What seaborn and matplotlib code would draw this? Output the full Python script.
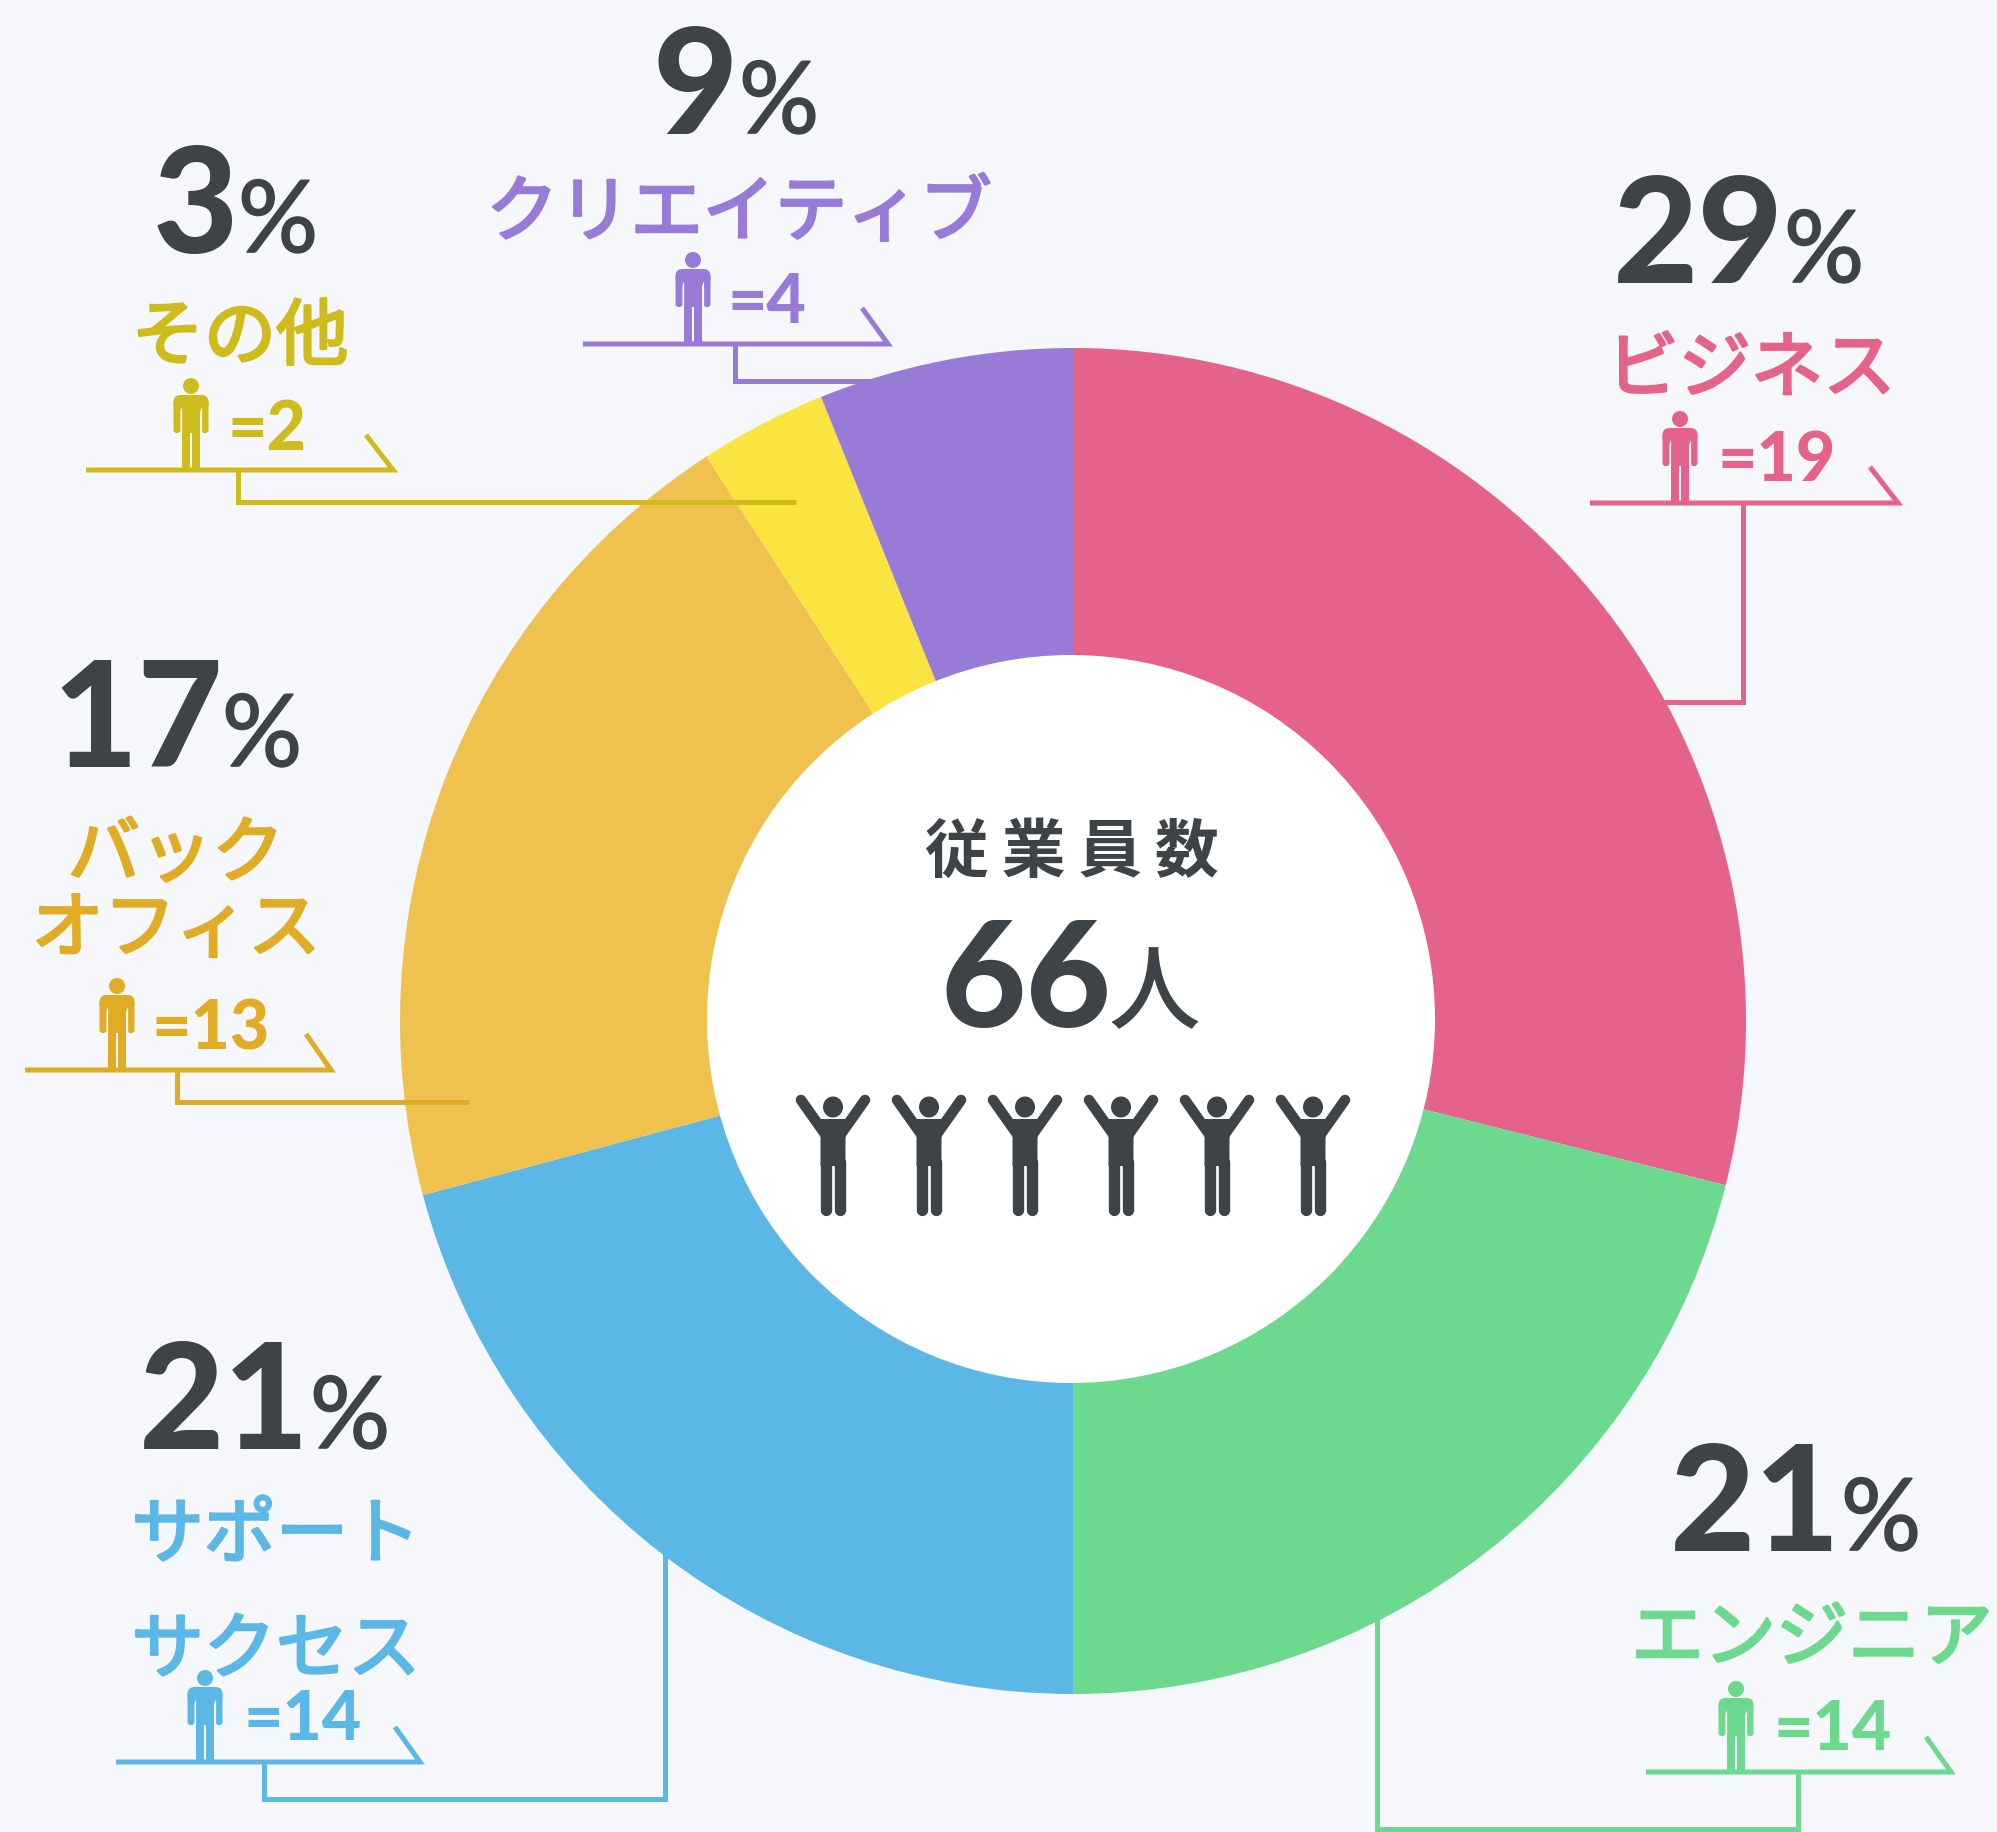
import matplotlib
matplotlib.use("Agg")
import matplotlib.pyplot as plt
import matplotlib.patheffects as pe
from matplotlib.patches import Circle, Ellipse, Rectangle, FancyBboxPatch, Polygon
import seaborn as sns

# ── data ─────────────────────────────────────────────────────────────────────
names = ["ビジネス", "エンジニア", "サポート\nサクセス", "バック\nオフィス", "その他", "クリエイティブ"]
counts = [19, 14, 14, 13, 2, 4]
# slice sizes as drawn in the picture (not quite the same as the counts)
slice_sizes = [19.09, 13.91, 13.75, 13.2, 2.02, 4.03]
pct_labels = ["29", "21", "21", "17", "3", "9"]
slice_hex = ["#E5628A", "#6CD98F", "#5BB8E6", "#EFC24F", "#FBE340", "#977BD6"]
text_hex = ["#E5628A", "#6CD98F", "#5BB8E6", "#E0AB25", "#CFBB1B", "#977BD6"]
center_title = "従\u2009業\u2009員\u2009数"
center_total = "66"
center_unit = "人"
center_icons = 6

DARK = "#3E4347"
BG = "#F6F7FB"
W, H = 1997, 1833

sns.set_theme(style="white", rc={"figure.facecolor": BG, "axes.facecolor": BG})
NUM_FONT = ["Lato", "DejaVu Sans"]
JP_FONT = ["Noto Sans CJK JP", "DejaVu Sans"]
plt.rcParams["font.family"] = JP_FONT

fig = plt.figure(figsize=(W / 100, H / 100), dpi=100)
ax = fig.add_axes([0, 0, 1, 1])

# ── layout, all in pixels of the picture (y runs down) ───────────────────────
layout = [
    dict(px=1613, py=283, sx=1784, lx=1751, ly=[392], cx=1680, top=412, nx=1718, ny=481,
         x0=1590, x1=1898, y=504, tx=1870, ty=468,
         lead=[(1743, 504), (1743, 703), (1640, 703)], over=False),
    dict(px=1670, py=1551, sx=1841, lx=1812, ly=[1661], cx=1736, top=1682, nx=1774, ny=1750,
         x0=1646, x1=1951, y=1773, tx=1926, ty=1738,
         lead=[(1798, 1773), (1798, 1830), (1377, 1830), (1377, 1600)], over=False),
    dict(px=139, py=1449, sx=310, lx=276, ly=[1558, 1673], cx=205, top=1671, nx=243, ny=1740,
         x0=116, x1=420, y=1763, tx=395, ty=1728,
         lead=[(264, 1763), (264, 1800), (665, 1800), (665, 1530)], over=False),
    dict(px=52, py=767, sx=222, lx=176, ly=[877, 952], cx=117, top=979, nx=151, ny=1049,
         x0=25, x1=331, y=1071, tx=306, ty=1035,
         lead=[(177, 1071), (177, 1103), (469, 1103)], over=True),
    dict(px=153, py=253, sx=238, lx=240, ly=[360], cx=191, top=379, nx=227, ny=450,
         x0=86, x1=393, y=471, tx=366, ty=436,
         lead=[(238, 471), (238, 503), (796, 503)], over=True),
    dict(px=653, py=134, sx=739, lx=739, ly=[236], cx=693, top=253, nx=728, ny=323,
         x0=583, x1=888, y=345, tx=862, ty=309,
         lead=[(735, 345), (735, 382), (900, 382)], over=False),
]


def person(cx, top, bottom, color, zorder=5):
    # standing figure under each label
    ax.add_patch(Circle((cx, top + 8), 8, fc=color, ec="none", zorder=zorder))
    ax.add_patch(FancyBboxPatch((cx - 17.5, top + 17), 35, 16, boxstyle="round,pad=0,rounding_size=7",
                                fc=color, ec="none", zorder=zorder))
    for side in (-1, 1):
        ax.add_patch(FancyBboxPatch((cx + side * 14 - 3.5, top + 22), 7, 33, boxstyle="round,pad=0,rounding_size=3",
                                    fc=color, ec="none", zorder=zorder))
        ax.add_patch(Rectangle((cx + side * 5 - 4.2, top + 50), 8.4, bottom - top - 50, fc=color, ec="none", zorder=zorder))
    ax.add_patch(Rectangle((cx - 9.2, top + 17), 18.4, 38, fc=color, ec="none", zorder=zorder))
    # gap between arm and body
    for side in (-1, 1):
        ax.plot([cx + side * 9.8] * 2, [top + 30, top + 55], color=BG, lw=0.9, zorder=zorder, solid_capstyle="butt")


def cheer(cx, top, bottom, color, zorder=5):
    # arms-up figure in the middle of the ring
    ax.add_patch(Ellipse((cx, top + 13), 20, 21, fc=color, ec="none", zorder=zorder))
    for side in (-1, 1):
        ax.plot([cx + side * 32, cx + side * 8], [top + 6, top + 40], color=color, lw=7.6, zorder=zorder, solid_capstyle="round")
        ax.plot([cx + side * 7] * 2, [top + 68, bottom - 6], color=color, lw=8.2, zorder=zorder, solid_capstyle="round")
    ax.add_patch(Polygon([(cx - 19, top + 25), (cx + 19, top + 25), (cx + 12.5, top + 42), (cx + 12.5, top + 72),
                          (cx - 12.5, top + 72), (cx - 12.5, top + 42)], fc=color, ec="none", zorder=zorder))


def thicker(color, lw):
    # the installed CJK font has no medium weight, so fatten the regular one
    return [pe.withStroke(linewidth=lw, foreground=color)]


# ── ring ─────────────────────────────────────────────────────────────────────
palette = sns.color_palette(slice_hex)
# y axis is flipped below, so counterclock here reads clockwise from the top
ax.pie(slice_sizes, colors=palette, startangle=-90, counterclock=True, radius=673, center=(1073, 1022),
       wedgeprops=dict(linewidth=0, zorder=3), frame=True)
ax.add_patch(Circle((1071, 1020), 364, fc="white", ec="none", zorder=4))
ax.set_xlim(0, W)
ax.set_ylim(H, 0)
ax.set_aspect("equal")
ax.axis("off")

# ── labels, shelves and leaders ──────────────────────────────────────────────
for i, d in enumerate(layout):
    col = text_hex[i]
    ax.text(d["px"], d["py"], pct_labels[i], color=DARK, fontsize=106, fontweight="black",
            family=NUM_FONT, ha="left", va="baseline", zorder=6)
    ax.text(d["sx"], d["py"], "%", color=DARK, fontsize=72, fontweight="normal",
            family=NUM_FONT, ha="left", va="baseline", zorder=6, path_effects=thicker(DARK, 1.2))
    for line, yy in zip(names[i].split("\n"), d["ly"]):
        ax.text(d["lx"], yy, line, color=col, fontsize=52, fontweight="normal",
                ha="center", va="baseline", zorder=6, path_effects=thicker(col, 2.0))
    person(d["cx"], d["top"], d["y"], col)
    ax.text(d["nx"], d["ny"], f"={counts[i]}", color=col, fontsize=49, fontweight="black",
            family=NUM_FONT, ha="left", va="baseline", zorder=6)
    z = 5 if d["over"] else 2
    ax.plot([d["x0"], d["x1"], d["tx"]], [d["y"], d["y"], d["ty"]], color=col, lw=3.6, zorder=5,
            solid_joinstyle="miter", solid_capstyle="butt")
    ax.plot([p[0] for p in d["lead"]], [p[1] for p in d["lead"]], color=col, lw=3.6, zorder=z,
            solid_joinstyle="miter", solid_capstyle="butt")

# ── centre ───────────────────────────────────────────────────────────────────
ax.text(1072, 872, center_title, color=DARK, fontsize=46, fontweight="bold", ha="center", va="baseline", zorder=6)
ax.text(941, 1027, center_total, color=DARK, fontsize=106, fontweight="black", family=NUM_FONT,
        ha="left", va="baseline", zorder=6)
ax.text(1108, 1022, center_unit, color=DARK, fontsize=66, fontweight="medium", ha="left", va="baseline", zorder=6)
for k in range(center_icons):
    cheer(833 + 96 * k, 1095, 1217, DARK)

fig.savefig("out.png", dpi=100, facecolor=BG)
